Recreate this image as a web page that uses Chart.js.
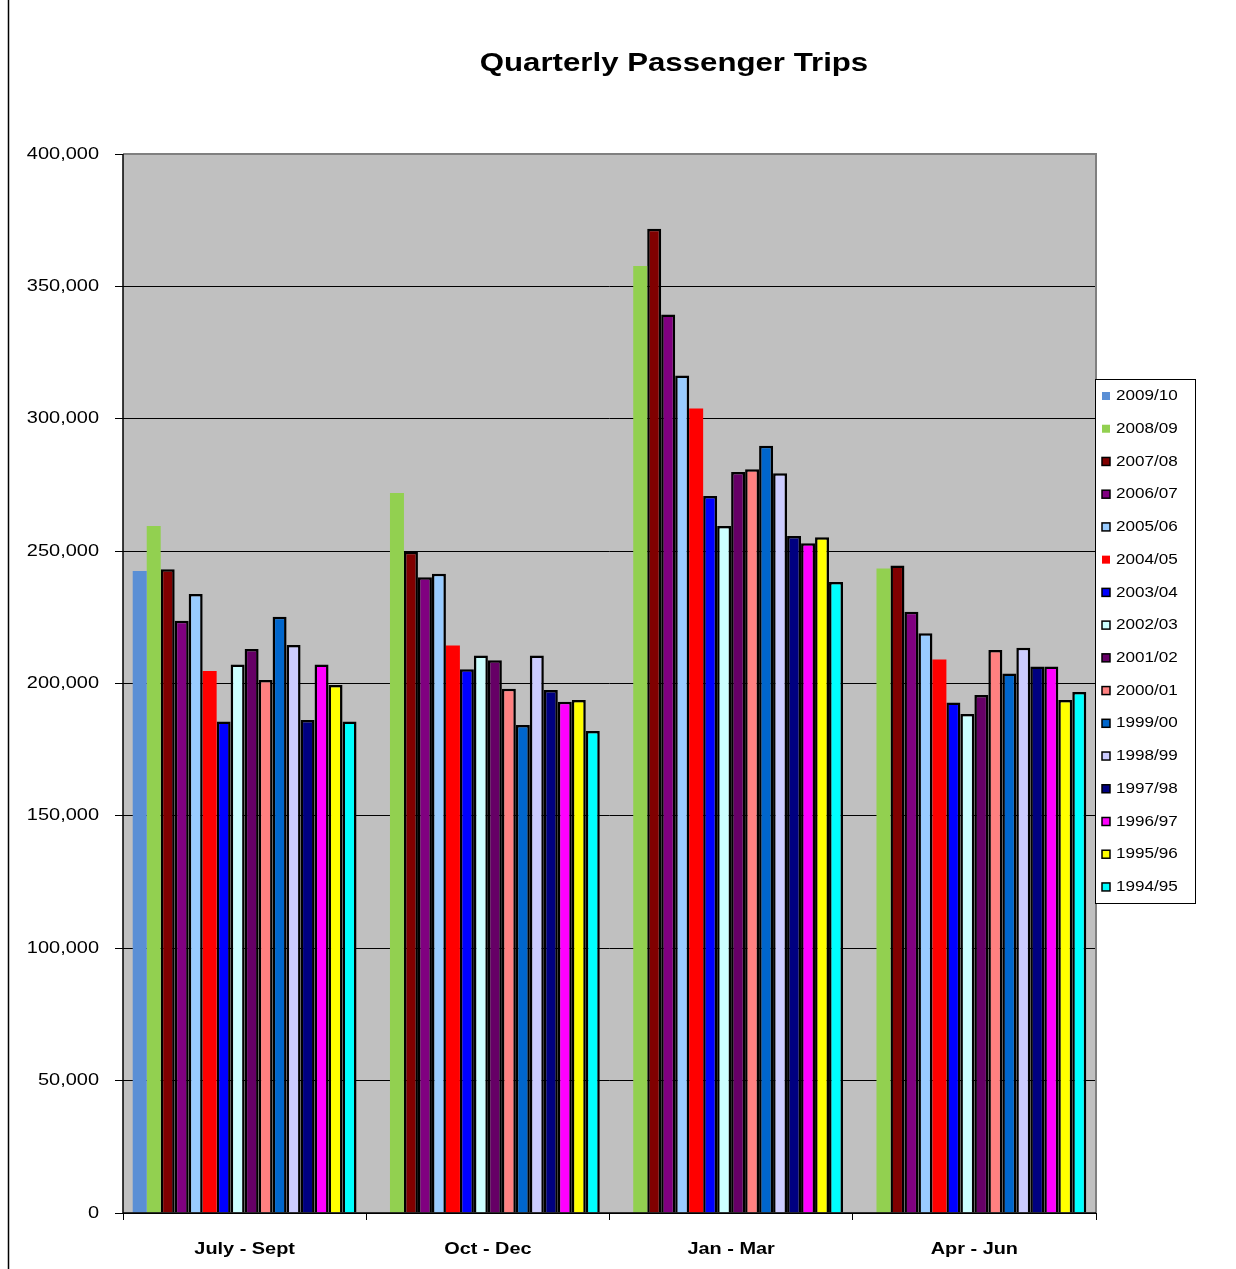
<!DOCTYPE html>
<html>
<head>
<meta charset="utf-8">
<script src="https://cdn.jsdelivr.net/npm/chart.js"></script>
<style>
  body { margin: 0; background: #fff; }
  canvas { display: block; }
</style>
</head>
<body>
<canvas id="myChart" width="1236" height="1269"></canvas>
<script>
const categories = ['July - Sept', 'Oct - Dec', 'Jan - Mar', 'Apr - Jun'];
const yTicks = [0, 50000, 100000, 150000, 200000, 250000, 300000, 350000, 400000];

// one array per financial year, quarters in category order
const y2009_10 = [242500, null, null, null];
const y2008_09 = [259500, 272000, 357700, 243400];
const y2007_08 = [243200, 249800, 371800, 244600];
const y2006_07 = [223700, 240100, 339400, 227100];
const y2005_06 = [233800, 241500, 316300, 219000];
const y2004_05 = [204700, 214400, 303900, 209100];
const y2003_04 = [185600, 205400, 270800, 192800];
const y2002_03 = [207200, 210600, 259500, 188500];
const y2001_02 = [213000, 208800, 279900, 195700];
const y2000_01 = [201300, 198000, 280900, 212700];
const y1999_00 = [225200, 184300, 289800, 203800];
const y1998_99 = [214500, 210600, 279400, 213500];
const y1997_98 = [186200, 197500, 255700, 206400];
const y1996_97 = [207200, 193100, 253000, 206400];
const y1995_96 = [199400, 193800, 255200, 193800];
const y1994_95 = [185600, 182100, 238300, 196800];

const seriesNames = ['2009/10', '2008/09', '2007/08', '2006/07', '2005/06', '2004/05', '2003/04', '2002/03',
  '2001/02', '2000/01', '1999/00', '1998/99', '1997/98', '1996/97', '1995/96', '1994/95'];
const seriesValues = [y2009_10, y2008_09, y2007_08, y2006_07, y2005_06, y2004_05, y2003_04, y2002_03,
  y2001_02, y2000_01, y1999_00, y1998_99, y1997_98, y1996_97, y1995_96, y1994_95];
const seriesColors = ['#5a8fd5', '#92d050', '#800000', '#800080', '#99ccff', '#ff0000', '#0000ff', '#ccffff',
  '#660066', '#ff8080', '#0066cc', '#ccccff', '#000080', '#ff00ff', '#ffff00', '#00ffff'];
const outlined = [false, false, true, true, true, false, true, true, true, true, true, true, true, true, true, true];

// the original text is stretched sideways, so draw it scaled
function stretchText(c, txt, x, y, font, align, sx) {
  c.save();
  c.font = font;
  c.textAlign = align;
  c.textBaseline = 'middle';
  c.fillStyle = '#000';
  c.translate(x, y);
  c.scale(sx, 1);
  c.fillText(txt, 0, 0);
  c.restore();
}

const excelLook = {
  id: 'excelLook',
  beforeDraw(chart) {
    const c = chart.ctx, a = chart.chartArea;
    c.save();
    c.fillStyle = '#c0c0c0';
    c.fillRect(a.left, a.top, a.right - a.left, a.bottom - a.top);
    c.restore();
  },
  afterDraw(chart) {
    const c = chart.ctx, a = chart.chartArea;
    const xs = chart.scales.x, ys = chart.scales.y;
    c.save();
    // plot border
    c.strokeStyle = '#808080';
    c.lineWidth = 2;
    c.beginPath();
    c.moveTo(a.left, a.top); c.lineTo(a.right, a.top); c.lineTo(a.right, a.bottom);
    c.stroke();
    c.strokeStyle = '#000';
    c.lineWidth = 1.5;
    c.beginPath();
    c.moveTo(a.left, a.top); c.lineTo(a.left, a.bottom); c.lineTo(a.right, a.bottom);
    c.stroke();
    // page edge line on the left
    c.beginPath(); c.moveTo(8.5, 0); c.lineTo(8.5, chart.height); c.stroke();
    c.restore();

    stretchText(c, 'Quarterly Passenger Trips', 674, 64, 'bold 26px "Liberation Sans", Arial', 'center', 1.2);

    yTicks.forEach(v => {
      stretchText(c, v.toLocaleString('en-US'), 99, ys.getPixelForValue(v), '16.5px "Liberation Sans", Arial', 'right', 1.21);
    });
    categories.forEach((cat, i) => {
      stretchText(c, cat, xs.getPixelForValue(i), 1249, 'bold 17px "Liberation Sans", Arial', 'center', 1.17);
    });

    // legend box
    const lx = 1095, ly = 379, lw = 100, lh = 524;
    c.save();
    c.fillStyle = '#fff';
    c.fillRect(lx, ly, lw, lh);
    c.strokeStyle = '#000';
    c.lineWidth = 1;
    c.strokeRect(lx + 0.5, ly + 0.5, lw, lh);
    const step = 32.73;
    chart.data.datasets.forEach((ds, i) => {
      const cy = 396 + i * step;
      c.fillStyle = ds.backgroundColor;
      c.fillRect(1102, cy - 4, 8, 8);
      if (outlined[i]) {
        c.strokeStyle = '#000';
        c.lineWidth = 1.5;
        c.strokeRect(1102, cy - 4, 8, 8);
      }
      stretchText(c, ds.label, 1116, cy, '15px "Liberation Sans", Arial', 'left', 1.14);
    });
    c.restore();
  }
};

const ctx = document.getElementById('myChart');

new Chart(ctx, {
  type: 'bar',
  data: {
    labels: categories,
    datasets: seriesNames.map((name, i) => ({
      label: name,
      data: seriesValues[i],
      backgroundColor: seriesColors[i],
      borderColor: '#000',
      borderWidth: outlined[i] ? 2.5 : 0,
      categoryPercentage: 0.92,
      barPercentage: 1.0
    }))
  },
  options: {
    responsive: false,
    animation: false,
    layout: { padding: { top: 154, right: 140, left: 0, bottom: 0 } },
    plugins: {
      legend: { display: false },
      title: { display: false },
      tooltip: { enabled: false }
    },
    scales: {
      x: {
        offset: true,
        grid: { offset: true, drawOnChartArea: false, color: '#000', tickLength: 7, lineWidth: 1 },
        border: { display: false },
        ticks: { display: false },
        afterFit(s) { s.height = 56; }
      },
      y: {
        min: 0,
        max: 400000,
        afterBuildTicks(s) { s.ticks = yTicks.map(v => ({ value: v })); },
        grid: { color: '#000', tickLength: 8, lineWidth: 1 },
        border: { display: false },
        ticks: { display: false },
        afterFit(s) { s.width = 123; }
      }
    }
  },
  plugins: [excelLook]
});
</script>
</body>
</html>
